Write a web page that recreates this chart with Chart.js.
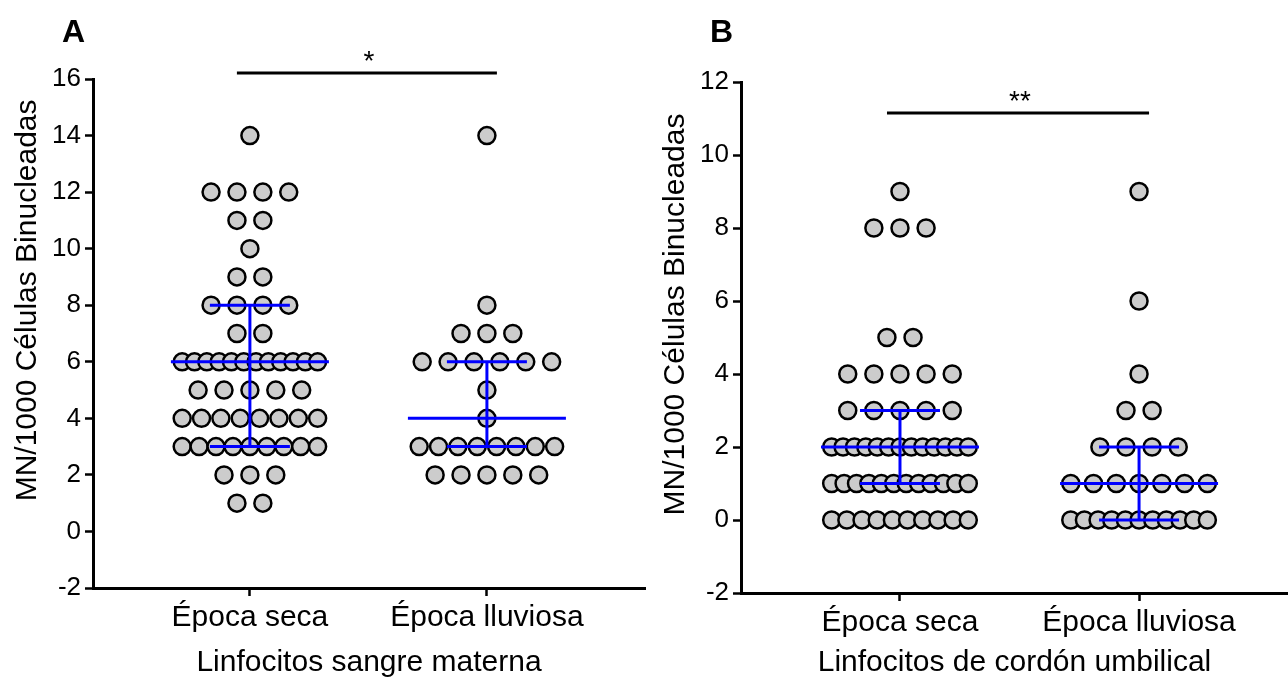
<!DOCTYPE html>
<html>
<head>
<meta charset="utf-8">
<script src="https://cdn.jsdelivr.net/npm/chart.js@4"></script>
<style>
body { margin: 0; background: #fff; width: 1288px; height: 679px; position: relative; overflow: hidden; }
canvas { position: absolute; top: 0; }
#chartA { left: 0; }
#chartB { left: 648px; }
</style>
</head>
<body>
<canvas id="chartA" width="650" height="679"></canvas>
<canvas id="chartB" width="640" height="679"></canvas>
<script>
// categorias y valores
var categorias = ['Época seca', 'Época lluviosa'];

var maternaSeca = [14, 12, 12, 12, 12, 11, 11, 10, 9, 9, 8, 8, 8, 8, 7, 7,
    6, 6, 6, 6, 6, 6, 6, 6, 6, 6, 6, 6, 5, 5, 5, 5, 5,
    4, 4, 4, 4, 4, 4, 4, 4, 3, 3, 3, 3, 3, 3, 3, 3, 3, 2, 2, 2, 1, 1];
var maternaLluviosa = [14, 8, 7, 7, 7, 6, 6, 6, 6, 6, 6, 5, 4,
    3, 3, 3, 3, 3, 3, 3, 3, 2, 2, 2, 2, 2];
var cordonSeca = [9, 8, 8, 8, 5, 5, 4, 4, 4, 4, 4, 3, 3, 3, 3, 3,
    2, 2, 2, 2, 2, 2, 2, 2, 2, 2, 2, 2, 2,
    1, 1, 1, 1, 1, 1, 1, 1, 1, 1, 1, 1,
    0, 0, 0, 0, 0, 0, 0, 0, 0, 0];
var cordonLluviosa = [9, 6, 4, 3, 3, 2, 2, 2, 2, 1, 1, 1, 1, 1, 1, 1,
    0, 0, 0, 0, 0, 0, 0, 0, 0, 0, 0];

// mediana y rango intercuartil
var medianaA = [6, 4];
var q1A = [3, 3];
var q3A = [8, 6];
var medianaB = [2, 1];
var q1B = [1, 0];
var q3B = [3, 2];

var ticksYA = [-2, 16];
var ticksYB = [-2, 12];

var FUENTE = '"Liberation Sans", Arial, sans-serif';
Chart.defaults.font.family = FUENTE;
Chart.defaults.color = '#000';

var PX_POR_UNIDAD = 238;

function enjambre(valores, cat) {
    var cuenta = {};
    valores.forEach(function(v) { cuenta[v] = (cuenta[v] || 0) + 1; });
    var visto = {};
    return valores.map(function(v) {
        var n = cuenta[v];
        visto[v] = visto[v] === undefined ? 0 : visto[v] + 1;
        var paso = n > 1 ? Math.min(26, 136 / (n - 1)) : 0;
        return { x: cat + (visto[v] - (n - 1) / 2) * paso / PX_POR_UNIDAD, y: v };
    });
}

var extras = {
    id: 'extras',
    afterDatasetsDraw: function(chart, args, o) {
        var ctx = chart.ctx;
        var x = chart.scales.x, y = chart.scales.y;
        var area = chart.chartArea;
        ctx.save();
        ctx.strokeStyle = '#0000ff';
        ctx.lineWidth = 3;
        function linea(x1, y1, x2, y2) {
            ctx.beginPath(); ctx.moveTo(x1, y1); ctx.lineTo(x2, y2); ctx.stroke();
        }
        o.mediana.forEach(function(m, i) {
            var cx = x.getPixelForValue(i + 1);
            var ym = y.getPixelForValue(m);
            var y1 = y.getPixelForValue(o.q1[i]);
            var y3 = y.getPixelForValue(o.q3[i]);
            linea(cx - 79, ym, cx + 79, ym);
            linea(cx, y1, cx, y3);
            linea(cx - 40, y1, cx + 40, y1);
            linea(cx - 40, y3, cx + 40, y3);
        });
        // barra de significancia
        ctx.strokeStyle = '#000';
        var by = y.getPixelForValue(o.sigY);
        var xa = x.getPixelForValue(1) - 13, xb = x.getPixelForValue(2) + 10;
        linea(xa, by, xb, by);
        ctx.fillStyle = '#000';
        ctx.font = '28px ' + FUENTE;
        ctx.textAlign = 'center';
        ctx.textBaseline = 'alphabetic';
        ctx.fillText(o.sigTexto, (xa + xb) / 2 + 2, by - 3);
        // letra del panel
        ctx.font = 'bold 32px ' + FUENTE;
        ctx.textAlign = 'left';
        ctx.fillText(o.letra, area.left - 31, 42);
        // titulo del eje y
        ctx.font = '30px ' + FUENTE;
        ctx.textAlign = 'center';
        ctx.textBaseline = 'middle';
        ctx.translate(area.left - 65, area.top + (area.bottom - area.top) * o.tituloYPos);
        ctx.rotate(-Math.PI / 2);
        ctx.fillText('MN/1000 Células Binucleadas', 0, 0);
        ctx.restore();
    }
};

function panel(id, series, rangoY, rangoX, tituloX, altoX, padTop, padRight, opc) {
    var ctx = document.getElementById(id).getContext('2d');
    return new Chart(ctx, {
        type: 'scatter',
        data: {
            datasets: series.map(function(s, i) {
                return {
                    data: enjambre(s, i + 1),
                    backgroundColor: '#cccccc',
                    borderColor: '#000',
                    borderWidth: 2.5,
                    pointRadius: 8.5,
                    pointHoverRadius: 8.5
                };
            })
        },
        options: {
            responsive: false,
            animation: false,
            events: [],
            layout: { autoPadding: false, padding: { top: padTop, right: padRight, bottom: 0, left: 0 } },
            plugins: { legend: { display: false }, tooltip: { enabled: false }, extras: opc },
            scales: {
                x: {
                    type: 'linear',
                    min: rangoX[0],
                    max: rangoX[1],
                    afterBuildTicks: function(s) { s.ticks = [{ value: 1 }, { value: 2 }]; },
                    afterFit: function(s) { s.height = altoX; },
                    ticks: {
                        callback: function(v) { return categorias[v - 1]; },
                        font: { size: 30 },
                        padding: 4,
                        maxRotation: 0,
                        autoSkip: false
                    },
                    grid: { drawOnChartArea: false, tickLength: 8, tickWidth: 2.5, tickColor: '#000' },
                    border: { color: '#000', width: 3 },
                    title: { display: true, text: tituloX, font: { size: 30, lineHeight: 1.05 }, padding: { top: 0, bottom: 1 } }
                },
                y: {
                    min: rangoY[0],
                    max: rangoY[1],
                    afterFit: function(s) { s.width = 93; },
                    ticks: { stepSize: 2, font: { size: 26 }, padding: 4 },
                    grid: { drawOnChartArea: false, tickLength: 8, tickWidth: 2.5, tickColor: '#000' },
                    border: { color: '#000', width: 3 }
                }
            }
        },
        plugins: [extras]
    });
}

panel('chartA', [maternaSeca, maternaLluviosa], ticksYA, [0.338, 2.667], 'Linfocitos sangre materna', 91, 79, 5,
    { mediana: medianaA, q1: q1A, q3: q3A, sigY: 16.21, sigTexto: '*', letra: 'A', tituloYPos: 0.435 });
panel('chartB', [cordonSeca, cordonLluviosa], ticksYB, [0.335, 2.623], 'Linfocitos de cordón umbilical', 86, 82, 0,
    { mediana: medianaB, q1: q1B, q3: q3B, sigY: 11.15, sigTexto: '**', letra: 'B', tituloYPos: 0.455 });
</script>
</body>
</html>
